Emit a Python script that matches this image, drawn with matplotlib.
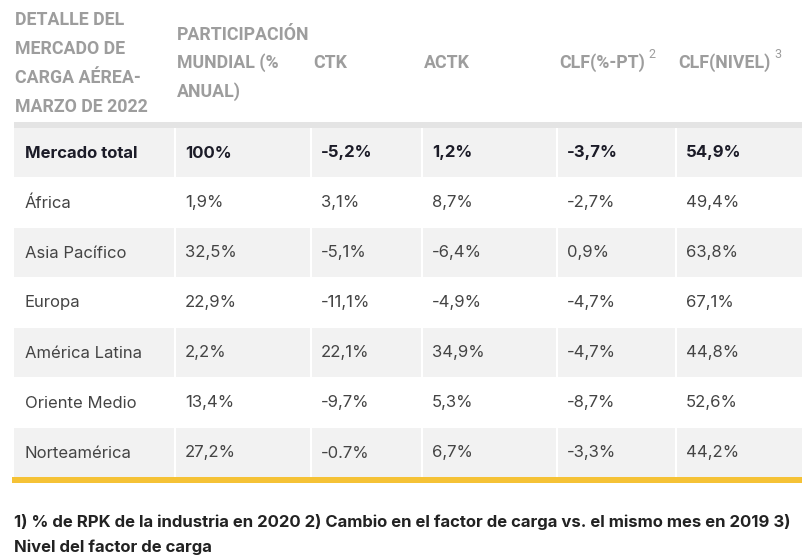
import matplotlib
matplotlib.use("Agg")
import matplotlib.pyplot as plt
from matplotlib.patches import Rectangle

# ---- data ----
header_lines = [
    ["DETALLE DEL", "MERCADO DE", "CARGA AÉREA-", "MARZO DE 2022"],
    ["PARTICIPACIÓN", "MUNDIAL (%", "ANUAL)"],
    ["CTK"],
    ["ACTK"],
    ["CLF(%-PT)"],
    ["CLF(NIVEL)"],
]
header_sup = ["", "", "", "", "2", "3"]
regions = ["Mercado total", "África", "Asia Pacífico", "Europa",
           "América Latina", "Oriente Medio", "Norteamérica"]
participacion = ["100%", "1,9%", "32,5%", "22,9%", "2,2%", "13,4%", "27,2%"]
ctk = ["-5,2%", "3,1%", "-5,1%", "-11,1%", "22,1%", "-9,7%", "-0.7%"]
actk = ["1,2%", "8,7%", "-6,4%", "-4,9%", "34,9%", "5,3%", "6,7%"]
clf_pt = ["-3,7%", "-2,7%", "0,9%", "-4,7%", "-4,7%", "-8,7%", "-3,3%"]
clf_nivel = ["54,9%", "49,4%", "63,8%", "67,1%", "44,8%", "52,6%", "44,2%"]
footnote = ["1) % de RPK de la industria en 2020 2) Cambio en el factor de carga vs. el mismo mes en 2019 3)",
            "Nivel del factor de carga"]

columns = [regions, participacion, ctk, actk, clf_pt, clf_nivel]

# ---- layout ----
W, H = 803, 560
fig = plt.figure(figsize=(W / 100, H / 100), dpi=100)
ax = fig.add_axes([0, 0, 1, 1])
ax.set_xlim(0, W)
ax.set_ylim(H, 0)
ax.axis("off")

col_edges = [14, 174, 310, 421, 556, 675, 803]
row_top = 127
row_h = 50
gap = 2

head_font = "Roboto"
body_font = "Inter"
head_col = "#9d9d9d"
body_col = "#444444"
bold_col = "#1c1c28"

# header bottom band
ax.add_patch(Rectangle((col_edges[0], 122), col_edges[-1] - col_edges[0], 6,
                       facecolor="#e4e4e4", edgecolor="none"))

# header text
head_y = {1: [63], 3: [35, 63, 92], 4: [20, 49, 78, 107]}
fig.canvas.draw()
for c, lines in enumerate(header_lines):
    ys = head_y[len(lines)]
    x = col_edges[c] + (1 if c == 0 else 3)
    for ln, y in zip(lines, ys):
        t = ax.text(x, y, ln, fontsize=12.8, fontfamily=head_font, fontweight="bold",
                    color=head_col, va="center", ha="left")
    if header_sup[c]:
        r = fig.canvas.get_renderer()
        bb = t.get_window_extent(renderer=r)
        xr = bb.x1
        ax.text(xr + 4, y - 8, header_sup[c], fontsize=9, fontfamily=head_font,
                color=head_col, va="center", ha="left")

# rows
for r in range(len(regions)):
    y0 = row_top + r * row_h
    if r % 2 == 0:
        for c in range(len(columns)):
            x0 = col_edges[c] + (0 if c == 0 else gap)
            ax.add_patch(Rectangle((x0, y0 + 1), col_edges[c + 1] - x0, row_h - 1,
                                   facecolor="#f2f2f2", edgecolor="none"))
    bold = r == 0
    for c, col in enumerate(columns):
        ax.text(col_edges[c] + 11, y0 + row_h / 2 + 1, col[r], fontsize=12,
                fontfamily=body_font, fontweight="bold" if bold else "normal",
                color=bold_col if bold else body_col, va="center", ha="left")

# yellow bottom line
yl = row_top + len(regions) * row_h
ax.add_patch(Rectangle((col_edges[0] - 2, yl), col_edges[-1] - col_edges[0] + 2, 6,
                       facecolor="#f5c236", edgecolor="none"))

# footnote
for i, ln in enumerate(footnote):
    ax.text(14, 522 + i * 25, ln, fontsize=12, fontfamily=body_font,
            fontweight="bold", color="#222222", va="center", ha="left")

fig.savefig("out.png", dpi=100)
